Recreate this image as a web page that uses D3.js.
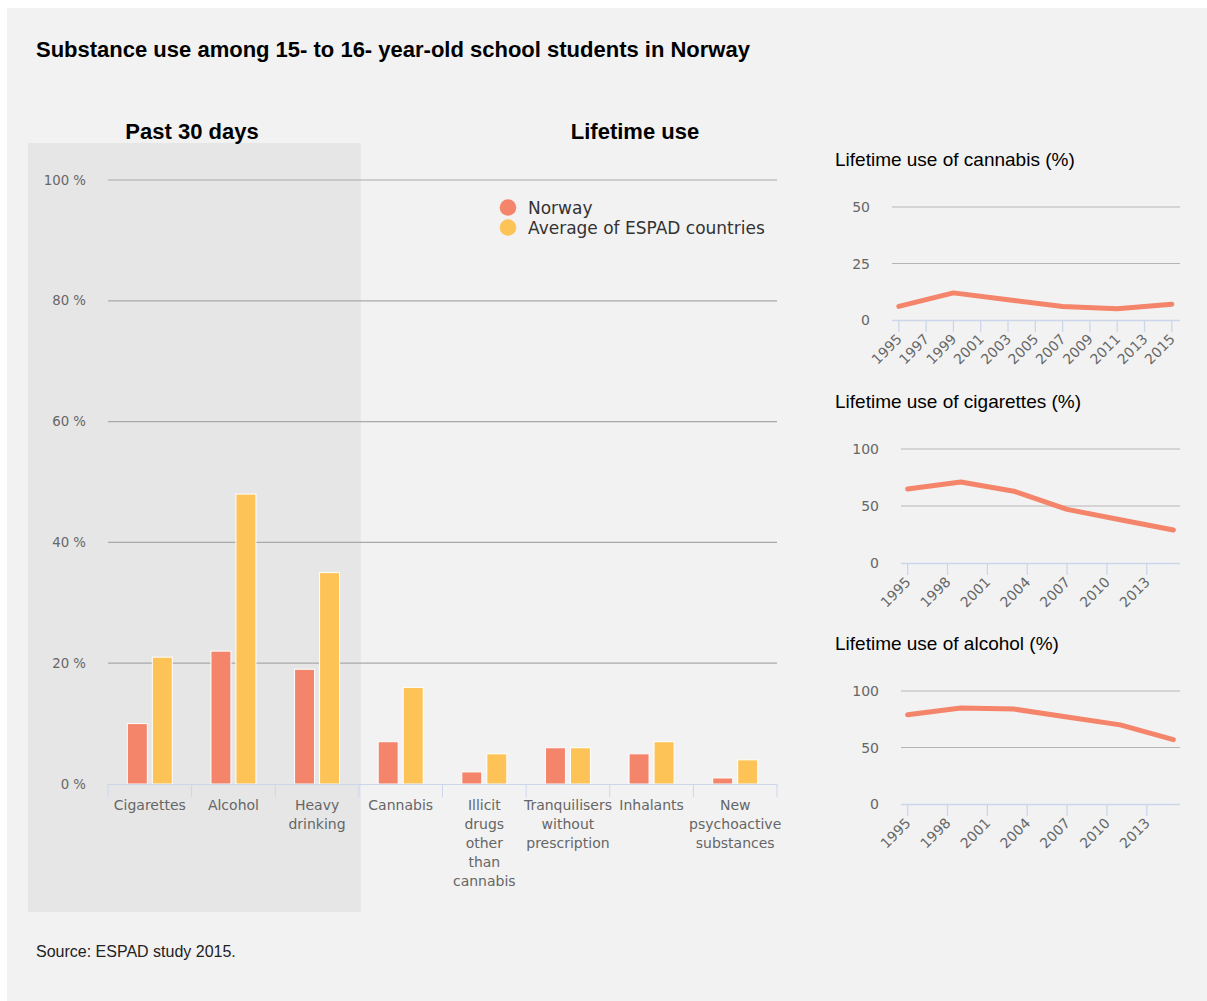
<!DOCTYPE html>
<html><head><meta charset="utf-8">
<script src="https://cdn.jsdelivr.net/npm/d3@7"></script>
<style>
html,body{margin:0;padding:0;background:#fff;}
svg{display:block;}
</style></head>
<body>
<svg id="chart" width="1207" height="1001"></svg>
<script>
// ---------- data ----------
const categories = [
  ["Cigarettes"], ["Alcohol"], ["Heavy", "drinking"], ["Cannabis"],
  ["Illicit", "drugs", "other", "than", "cannabis"],
  ["Tranquilisers", "without", "prescription"], ["Inhalants"],
  ["New", "psychoactive", "substances"]
];
const seriesNames = ["Norway", "Average of ESPAD countries"];
const norway = [10, 22, 19, 7, 2, 6, 5, 1];
const espad = [21, 48, 35, 16, 5, 6, 7, 4];
const yTicks = [0, 20, 40, 60, 80, 100];

const trendYears = [1995, 1999, 2003, 2007, 2011, 2015];
const cannabisTrend = [6, 12, 9, 6, 5, 7];
const cigarettesTrend = [65, 71, 63, 47, 38, 29];
const alcoholTrend = [79, 85, 84, 77, 70, 57];
const cannabisYearTicks = [1995, 1997, 1999, 2001, 2003, 2005, 2007, 2009, 2011, 2013, 2015];
const threeYearTicks = [1995, 1998, 2001, 2004, 2007, 2010, 2013];
const cannabisYTicks = [0, 25, 50];
const hundredYTicks = [0, 50, 100];

// ---------- style ----------
const COL_NOR = "#f4846a";
const COL_AVG = "#fec356";
const GRID = "#a9a9a9";
const AXIS = "#ccd6eb";
const LABEL = "#666666";
const SANS = "'Liberation Sans', Arial, Helvetica, sans-serif";
const UI = "'DejaVu Sans', Verdana, sans-serif";

const svg = d3.select("#chart");
svg.append("rect").attr("x", 7).attr("y", 8).attr("width", 1200).attr("height", 993).attr("fill", "#f2f2f2");

// title
svg.append("text").attr("x", 36).attr("y", 57).attr("font-family", SANS).attr("font-weight", "bold")
  .attr("font-size", 22).attr("fill", "#000")
  .text("Substance use among 15- to 16- year-old school students in Norway");

// ---------- main bar chart ----------
const mLeft = 108, mRight = 777, mTop = 180, mBottom = 784;
const x0 = d3.scaleBand().domain(d3.range(categories.length)).range([mLeft, mRight]).padding(0);
const x1 = d3.scaleBand().domain(seriesNames).range([-22.5, 22.5]).paddingInner(0.2);
const y = d3.scaleLinear().domain([0, 100]).range([mBottom, mTop]);

// shaded "past 30 days" region
svg.append("rect").attr("x", 28).attr("y", 143)
  .attr("width", x0(3) + 2 - 28).attr("height", 912 - 143).attr("fill", "#e6e6e6");

svg.append("text").attr("x", 192).attr("y", 139).attr("text-anchor", "middle")
  .attr("font-family", SANS).attr("font-weight", "bold").attr("font-size", 22).text("Past 30 days");
svg.append("text").attr("x", 635).attr("y", 139).attr("text-anchor", "middle")
  .attr("font-family", SANS).attr("font-weight", "bold").attr("font-size", 22).text("Lifetime use");

// gridlines
svg.append("g").selectAll("line").data(yTicks.filter(d => d > 0)).join("line")
  .attr("x1", mLeft).attr("x2", mRight)
  .attr("y1", d => y(d)).attr("y2", d => y(d))
  .attr("stroke", GRID).attr("stroke-width", 1.2);

// y labels
svg.append("g").selectAll("text").data(yTicks).join("text")
  .attr("x", 86).attr("y", d => y(d) + 4.5).attr("text-anchor", "end")
  .attr("font-family", UI).attr("font-size", 13.3).attr("fill", LABEL)
  .text(d => d + " %");

// bars
const groups = svg.append("g").selectAll("g").data(categories.map((c, i) => i)).join("g")
  .attr("transform", i => `translate(${x0(i) + x0.bandwidth() / 2},0)`);
groups.selectAll("rect").data(i => [
  { s: seriesNames[0], v: norway[i], c: COL_NOR },
  { s: seriesNames[1], v: espad[i], c: COL_AVG }
]).join("rect")
  .attr("x", d => x1(d.s)).attr("width", x1.bandwidth())
  .attr("y", d => y(d.v)).attr("height", d => y(0) - y(d.v))
  .attr("fill", d => d.c).attr("stroke", "#fff").attr("stroke-width", 1);

// x axis
svg.append("line").attr("x1", mLeft).attr("x2", mRight).attr("y1", mBottom + 0.5).attr("y2", mBottom + 0.5)
  .attr("stroke", AXIS).attr("stroke-width", 1);
const boundaries = d3.range(categories.length + 1).map(i => i < categories.length ? x0(i) : mRight);
svg.append("g").selectAll("line").data(boundaries).join("line")
  .attr("x1", d => d).attr("x2", d => d).attr("y1", mBottom).attr("y2", mBottom + 13)
  .attr("stroke", AXIS).attr("stroke-width", 1);

const xl = svg.append("g").selectAll("text").data(categories.map((c, i) => i)).join("text")
  .attr("x", i => x0(i) + x0.bandwidth() / 2).attr("y", 810)
  .attr("text-anchor", "middle").attr("font-family", UI).attr("font-size", 14).attr("fill", LABEL);
xl.selectAll("tspan").data(i => categories[i].map(t => ({ t, i }))).join("tspan")
  .attr("x", d => x0(d.i) + x0.bandwidth() / 2)
  .attr("dy", (d, j) => j === 0 ? 0 : 19).text(d => d.t);

// legend
const legend = svg.append("g");
seriesNames.forEach((name, i) => {
  legend.append("circle").attr("cx", 508).attr("cy", 207.5 + i * 20).attr("r", 8.3)
    .attr("fill", i === 0 ? COL_NOR : COL_AVG);
  legend.append("text").attr("x", 528).attr("y", 214 + i * 20).attr("font-family", UI)
    .attr("font-size", 17).attr("fill", "#333").text(name);
});

// source
svg.append("text").attr("x", 36).attr("y", 957).attr("font-family", SANS).attr("font-size", 16)
  .attr("fill", "#222").text("Source: ESPAD study 2015.");

// ---------- small line charts ----------
function smallChart(cfg) {
  const g = svg.append("g");
  g.append("text").attr("x", 835).attr("y", cfg.titleY).attr("font-family", SANS).attr("font-size", 19)
    .attr("fill", "#000").text(cfg.title);
  const xs = d3.scaleLinear().domain(cfg.xDomain).range([cfg.left, 1180]);
  const ys = d3.scaleLinear().domain([0, cfg.yMax]).range([cfg.bottom, cfg.top]);
  g.selectAll("line.grid").data(cfg.yTicks.filter(d => d > 0)).join("line")
    .attr("x1", cfg.left).attr("x2", 1180).attr("y1", d => ys(d)).attr("y2", d => ys(d))
    .attr("stroke", "#b5b5b5").attr("stroke-width", 1.2);
  g.selectAll("text.yl").data(cfg.yTicks).join("text")
    .attr("x", cfg.left - 22).attr("y", d => ys(d) + 5).attr("text-anchor", "end")
    .attr("font-family", UI).attr("font-size", 14).attr("fill", LABEL).text(d => d);
  g.append("line").attr("x1", cfg.left).attr("x2", 1180).attr("y1", cfg.bottom + 0.5).attr("y2", cfg.bottom + 0.5)
    .attr("stroke", AXIS).attr("stroke-width", 1.3);
  g.selectAll("line.tick").data(cfg.xTicks).join("line")
    .attr("x1", d => xs(d)).attr("x2", d => xs(d)).attr("y1", cfg.bottom).attr("y2", cfg.bottom + 12)
    .attr("stroke", AXIS).attr("stroke-width", 1.3);
  g.selectAll("text.xl").data(cfg.xTicks).join("text")
    .attr("transform", d => `translate(${xs(d) + 4},${cfg.bottom + 20}) rotate(-45)`)
    .attr("text-anchor", "end").attr("font-family", UI).attr("font-size", 14).attr("fill", LABEL)
    .text(d => d);
  const line = d3.line().x((d, i) => xs(trendYears[i])).y(d => ys(d));
  g.append("path").attr("d", line(cfg.values)).attr("fill", "none").attr("stroke", COL_NOR)
    .attr("stroke-width", 5).attr("stroke-linecap", "round").attr("stroke-linejoin", "round");
}

smallChart({ title: "Lifetime use of cannabis (%)", titleY: 166, left: 892, top: 207, bottom: 320,
  yMax: 50, yTicks: cannabisYTicks, xDomain: [1994.5, 2015.6], xTicks: cannabisYearTicks, values: cannabisTrend });
smallChart({ title: "Lifetime use of cigarettes (%)", titleY: 408, left: 901, top: 449, bottom: 563,
  yMax: 100, yTicks: hundredYTicks, xDomain: [1994.5, 2015.5], xTicks: threeYearTicks, values: cigarettesTrend });
smallChart({ title: "Lifetime use of alcohol (%)", titleY: 650, left: 901, top: 691, bottom: 804,
  yMax: 100, yTicks: hundredYTicks, xDomain: [1994.5, 2015.5], xTicks: threeYearTicks, values: alcoholTrend });
</script>
</body></html>
